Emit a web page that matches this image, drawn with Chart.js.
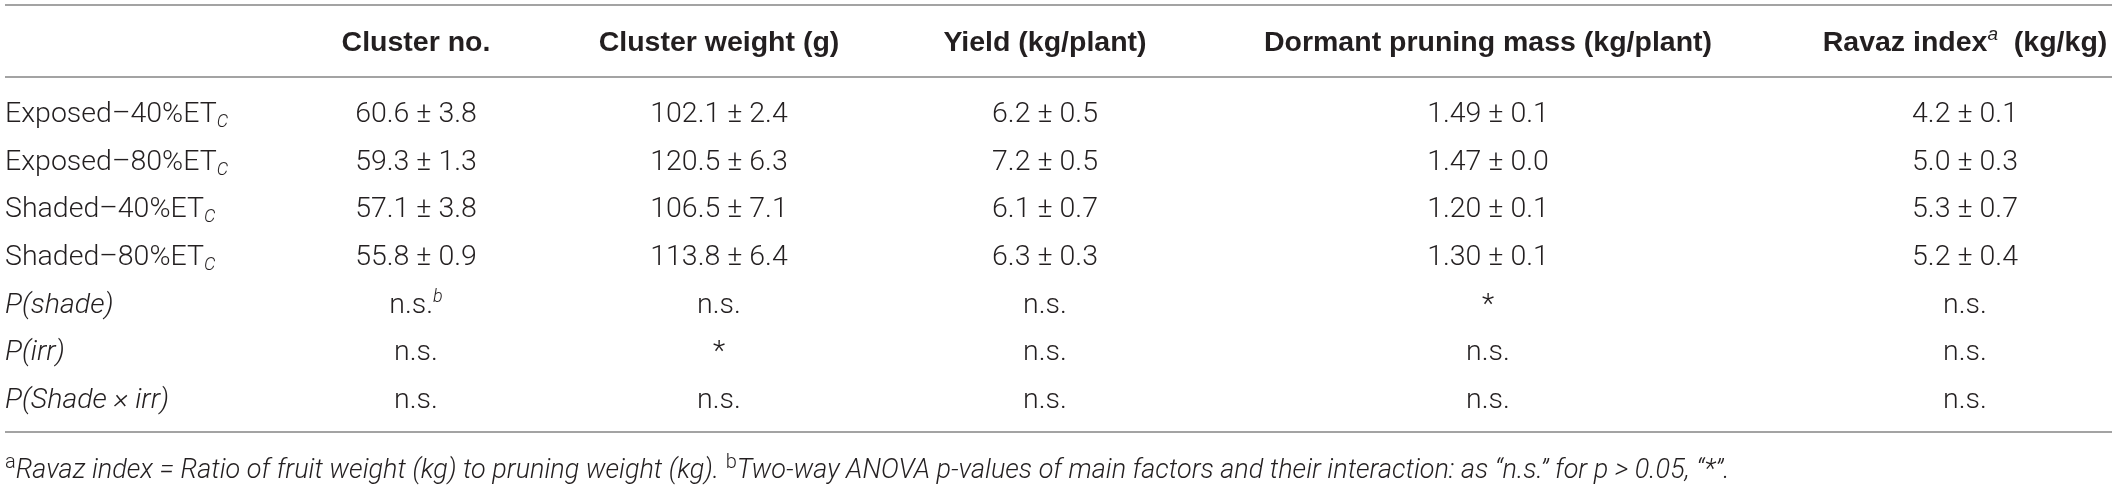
<!DOCTYPE html>
<html>
<head>
<meta charset="utf-8">
<script src="https://cdn.jsdelivr.net/npm/chart.js@4.4.1/dist/chart.umd.min.js"></script>
<style>
  html, body { margin: 0; padding: 0; background: #fff; }
  #wrap { width: 2117px; height: 486px; position: relative; }
</style>
</head>
<body>
<div id="wrap"><canvas id="tableChart"></canvas></div>
<script>
// Row names (treatments, then ANOVA rows)
const treatments = ['Exposed–40%', 'Exposed–80%', 'Shaded–40%', 'Shaded–80%'];
const anovaRows = ['P(shade)', 'P(irr)', 'P(Shade × irr)'];

// Column headers
const columns = ['Cluster no.', 'Cluster weight (g)', 'Yield (kg/plant)', 'Dormant pruning mass (kg/plant)', 'Ravaz index'];

// Means ± SE per column (one value per treatment)
const clusterNo = [60.6, 59.3, 57.1, 55.8];
const clusterNoSE = [3.8, 1.3, 3.8, 0.9];
const clusterWeight = [102.1, 120.5, 106.5, 113.8];
const clusterWeightSE = [2.4, 6.3, 7.1, 6.4];
const yieldKg = [6.2, 7.2, 6.1, 6.3];
const yieldKgSE = [0.5, 0.5, 0.7, 0.3];
const pruningMass = [1.49, 1.47, 1.20, 1.30];
const pruningMassSE = [0.1, 0.0, 0.1, 0.1];
const ravaz = [4.2, 5.0, 5.3, 5.2];
const ravazSE = [0.1, 0.3, 0.7, 0.4];

// ANOVA significance per column
const pShade = ['n.s.', 'n.s.', 'n.s.', '*', 'n.s.'];
const pIrr = ['n.s.', '*', 'n.s.', 'n.s.', 'n.s.'];
const pShadeIrr = ['n.s.', 'n.s.', 'n.s.', 'n.s.', 'n.s.'];

// footnotes
const noteA = 'Ravaz index = Ratio of fruit weight (kg) to pruning weight (kg). ';
const noteB = 'Two-way ANOVA p-values of main factors and their interaction: as “n.s.” for p > 0.05, “*”.';

// --- layout / style (not data) ---
const colCenterX = [416, 719, 1045, 1488, 1965];
const decimals = [1, 1, 1, 2, 1];
const TXT = '#231f20';
const RULE = '#a3a3a3';
const FONT_BODY = '300 28.5px Roboto';
const FONT_ITAL = 'italic 300 28.5px Roboto';
const FONT_SMALL_IT = 'italic 300 18px Roboto';
const FONT_SMALL = '300 20px Roboto';
const FONT_HEAD = 'bold 28.5px "Liberation Sans", Arial, sans-serif';
const FONT_HEAD_SUP = 'italic 19px "Liberation Sans", Arial, sans-serif';
const FONT_NOTE = 'italic 300 27px Roboto';

const means = [clusterNo, clusterWeight, yieldKg, pruningMass, ravaz];
const ses = [clusterNoSE, clusterWeightSE, yieldKgSE, pruningMassSE, ravazSE];
const pRows = [pShade, pIrr, pShadeIrr];
const rowNames = treatments.map(t => t + 'ETc').concat(anovaRows);

// build cell runs for each column/row
function cellRuns(c, r) {
  if (r < treatments.length) {
    const txt = means[c][r].toFixed(decimals[c]) + ' ± ' + ses[c][r].toFixed(1);
    return [{ text: txt, font: FONT_BODY }];
  }
  const v = pRows[r - treatments.length][c];
  const runs = [{ text: v, font: FONT_BODY }];
  if (r === treatments.length && c === 0) runs.push({ text: 'b', font: FONT_SMALL_IT, dy: -11 });
  return runs;
}

function labelRuns(r) {
  if (r < treatments.length) {
    return [
      { text: treatments[r] + 'ET', font: FONT_BODY },
      { text: 'C', font: FONT_SMALL_IT, dy: 5 }
    ];
  }
  return [{ text: anovaRows[r - treatments.length], font: FONT_ITAL }];
}

function headerRuns(c) {
  if (c === 4) {
    return [
      { text: 'Ravaz index', font: FONT_HEAD },
      { text: 'a', font: FONT_HEAD_SUP, dy: -11 },
      { text: '  (kg/kg)', font: FONT_HEAD }
    ];
  }
  return [{ text: columns[c], font: FONT_HEAD }];
}

function drawRuns(ctx, runs, x, yMid, align) {
  let total = 0;
  runs.forEach(run => { ctx.font = run.font; run.w = ctx.measureText(run.text).width; total += run.w; });
  let cx = align === 'center' ? x - total / 2 : x;
  const base = yMid + 10;
  runs.forEach(run => {
    ctx.font = run.font;
    ctx.fillText(run.text, cx, base + (run.dy || 0));
    cx += run.w;
  });
}

function hLine(ctx, y, x0, x1) {
  ctx.beginPath();
  ctx.moveTo(x0, y);
  ctx.lineTo(x1, y);
  ctx.stroke();
}

const tablePlugin = {
  id: 'tableText',
  afterDatasetsDraw(chart) {
    const { ctx, chartArea, scales } = chart;
    const x0 = scales.x.getPixelForValue(5);
    const x1 = scales.x.getPixelForValue(2112);
    ctx.save();
    ctx.fillStyle = TXT;
    ctx.textBaseline = 'alphabetic';
    ctx.textAlign = 'left';

    // rules
    ctx.strokeStyle = RULE;
    ctx.lineWidth = 2;
    hLine(ctx, chartArea.top - 83, x0, x1);
    hLine(ctx, chartArea.top - 11, x0, x1);
    hLine(ctx, chartArea.bottom + 10, x0, x1);

    // header
    const headY = chartArea.top - 47;
    columns.forEach((col, c) => {
      drawRuns(ctx, headerRuns(c), scales.x.getPixelForValue(colCenterX[c]), headY, 'center');
    });

    // row labels
    rowNames.forEach((name, r) => {
      drawRuns(ctx, labelRuns(r), x0, scales.y.getPixelForValue(r), 'left');
    });

    // cells from dataset elements
    chart.data.datasets.forEach((ds, c) => {
      chart.getDatasetMeta(c).data.forEach((pt, r) => {
        drawRuns(ctx, cellRuns(c, r), pt.x, pt.y, 'center');
      });
    });

    // footnote
    drawRuns(ctx, [
      { text: 'a', font: FONT_SMALL, dy: -10 },
      { text: noteA, font: FONT_NOTE },
      { text: 'b', font: FONT_SMALL, dy: -10 },
      { text: noteB, font: FONT_NOTE }
    ], x0, chartArea.bottom + 46, 'left');
    ctx.restore();
  }
};

const datasets = columns.map((col, c) => ({
  label: col,
  data: rowNames.map(r => ({ x: colCenterX[c], y: r })),
  pointRadius: 0,
  showLine: false
}));

new Chart(document.getElementById('tableChart'), {
  type: 'scatter',
  data: { datasets },
  options: {
    responsive: true,
    maintainAspectRatio: false,
    animation: false,
    events: [],
    layout: { padding: { top: 88, bottom: 64, left: 0, right: 0 } },
    scales: {
      x: { type: 'linear', min: 0, max: 2117, display: false },
      y: { type: 'category', labels: rowNames, offset: true, display: false }
    },
    plugins: {
      legend: { display: false },
      tooltip: { enabled: false }
    }
  },
  plugins: [tablePlugin]
});
</script>
</body>
</html>
